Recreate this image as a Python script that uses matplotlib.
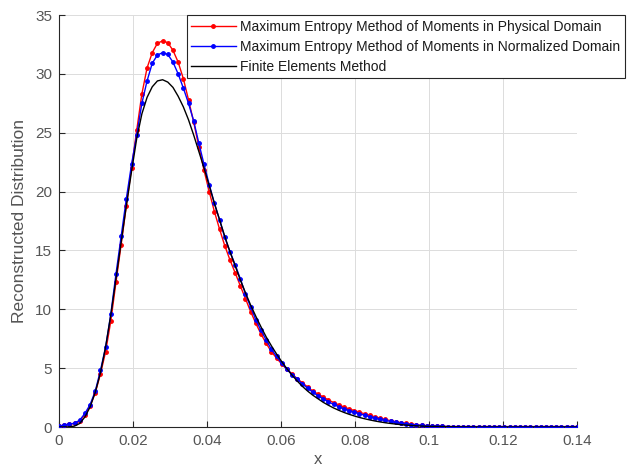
import numpy as np
import matplotlib
matplotlib.use("Agg")
import matplotlib.pyplot as plt

plt.rcParams['font.family'] = ['Liberation Sans', 'DejaVu Sans']

# x grid of the reconstructed points (0 .. 0.14, step 0.0014)
x = np.linspace(0.0, 0.14, 101)

tail_red = [0.07, 0.05, 0.04, 0.03] + [0.03] * 24
tail_blue = [0.06, 0.05, 0.04, 0.03] + [0.03] * 24
tail_fem = [0.05, 0.04, 0.03, 0.02, 0.015, 0.01, 0.008, 0.005] + [0.0] * 20

mem_physical = [
    0.05, 0.15, 0.22, 0.30, 0.52, 1.05, 1.8, 2.9, 4.5, 6.4,
    9.0, 12.3, 15.5, 18.8, 22.0, 25.2, 28.3, 30.5, 31.8, 32.6,
    32.8, 32.65, 32.0, 31.0, 29.6, 27.8, 25.9, 23.8, 21.8, 20.0,
    18.3, 16.8, 15.4, 14.2, 13.1, 12.0, 10.9, 9.8, 8.8, 7.9,
    7.1, 6.4, 5.85, 5.35, 4.9, 4.5, 4.1, 3.75, 3.4, 3.05,
    2.8, 2.55, 2.3, 2.08, 1.88, 1.7, 1.54, 1.4, 1.26, 1.12,
    0.99, 0.87, 0.75, 0.64, 0.54, 0.45, 0.37, 0.30, 0.24, 0.19,
    0.15, 0.11, 0.09,
] + tail_red

mem_normalized = [
    0.05, 0.18, 0.25, 0.32, 0.58, 1.15, 1.9, 3.05, 4.8, 6.8,
    9.6, 13.0, 16.2, 19.4, 22.3, 24.8, 27.5, 29.4, 30.9, 31.6,
    31.8, 31.65, 31.0, 30.0, 28.8, 27.5, 26.0, 24.1, 22.3, 20.6,
    19.0, 17.6, 16.1, 14.9, 13.8, 12.6, 11.3, 10.2, 9.1, 8.2,
    7.4, 6.6, 6.0, 5.4, 4.9, 4.45, 4.05, 3.65, 3.3, 2.95,
    2.65, 2.4, 2.15, 1.92, 1.72, 1.55, 1.4, 1.27, 1.13, 1.0,
    0.88, 0.77, 0.66, 0.56, 0.47, 0.39, 0.32, 0.26, 0.21, 0.17,
    0.13, 0.10, 0.08,
] + tail_blue

fem = [
    0.0, 0.0, 0.01, 0.08, 0.3, 0.85, 1.7, 2.95, 4.6, 6.8,
    9.5, 12.6, 15.7, 18.8, 21.7, 24.5, 26.6, 28.0, 28.9, 29.4,
    29.5, 29.3, 28.85, 28.1, 27.2, 26.1, 24.8, 23.4, 22.0, 20.5,
    19.0, 17.6, 16.2, 14.9, 13.7, 12.5, 11.4, 10.35, 9.4, 8.5,
    7.65, 6.9, 6.2, 5.55, 4.95, 4.4, 3.9, 3.45, 3.05, 2.7,
    2.4, 2.1, 1.85, 1.62, 1.42, 1.24, 1.08, 0.94, 0.81, 0.70,
    0.60, 0.51, 0.43, 0.36, 0.30, 0.25, 0.20, 0.16, 0.13, 0.10,
    0.08, 0.06, 0.05,
] + tail_fem

labels = [
    "Maximum Entropy Method of Moments in Physical Domain",
    "Maximum Entropy Method of Moments in Normalized Domain",
    "Finite Elements Method",
]
xticks = [0, 0.02, 0.04, 0.06, 0.08, 0.1, 0.12, 0.14]
xticklabels = ["0", "0.02", "0.04", "0.06", "0.08", "0.1", "0.12", "0.14"]
yticks = [0, 5, 10, 15, 20, 25, 30, 35]

W, H = 630, 473
fig = plt.figure(figsize=(W / 100, H / 100), dpi=100)
ax = fig.add_axes([59 / W, 1 - 427 / H, (577 - 59) / W, (427 - 15) / H])

ax.plot(x, mem_physical, color=(1, 0, 0), marker='.', markersize=5, lw=1.0,
        label=labels[0], zorder=3)
ax.plot(x, mem_normalized, color=(0, 0, 1), marker='.', markersize=5, lw=1.0,
        label=labels[1], zorder=4)
ax.plot(x, fem, color='black', lw=1.0, label=labels[2], zorder=5)

ax.set_xlim(0, 0.14)
ax.set_ylim(0, 35)
ax.set_xticks(xticks)
ax.set_xticklabels(xticklabels)
ax.set_yticks(yticks)

axcol = '#262626'
labcol = '#555555'
ax.spines['top'].set_visible(False)
ax.spines['right'].set_visible(False)
for s in ('left', 'bottom'):
    ax.spines[s].set_color(axcol)
    ax.spines[s].set_linewidth(0.8)
ax.tick_params(direction='in', length=4, width=0.8, colors=axcol,
               labelcolor=labcol, labelsize=11, pad=5)
ax.grid(True, color='#dcdcdc', lw=0.7)
ax.set_axisbelow(True)

ax.set_xlabel("x", fontsize=12, color=labcol, labelpad=3)
ax.set_ylabel("Reconstructed Distribution", fontsize=12.5, color=labcol, labelpad=6)

leg = ax.legend(loc='upper left', bbox_to_anchor=(187 / W, 1 - 15.5 / H),
                bbox_transform=fig.transFigure, fontsize=10, frameon=True,
                fancybox=False, edgecolor='#262626', framealpha=1.0,
                borderaxespad=0, handlelength=3.2, handletextpad=0.35,
                labelspacing=0.45, borderpad=0.3)
leg.get_frame().set_linewidth(0.8)
for t in leg.get_texts():
    t.set_color('#1a1a1a')

fig.savefig("out.png", dpi=100)
